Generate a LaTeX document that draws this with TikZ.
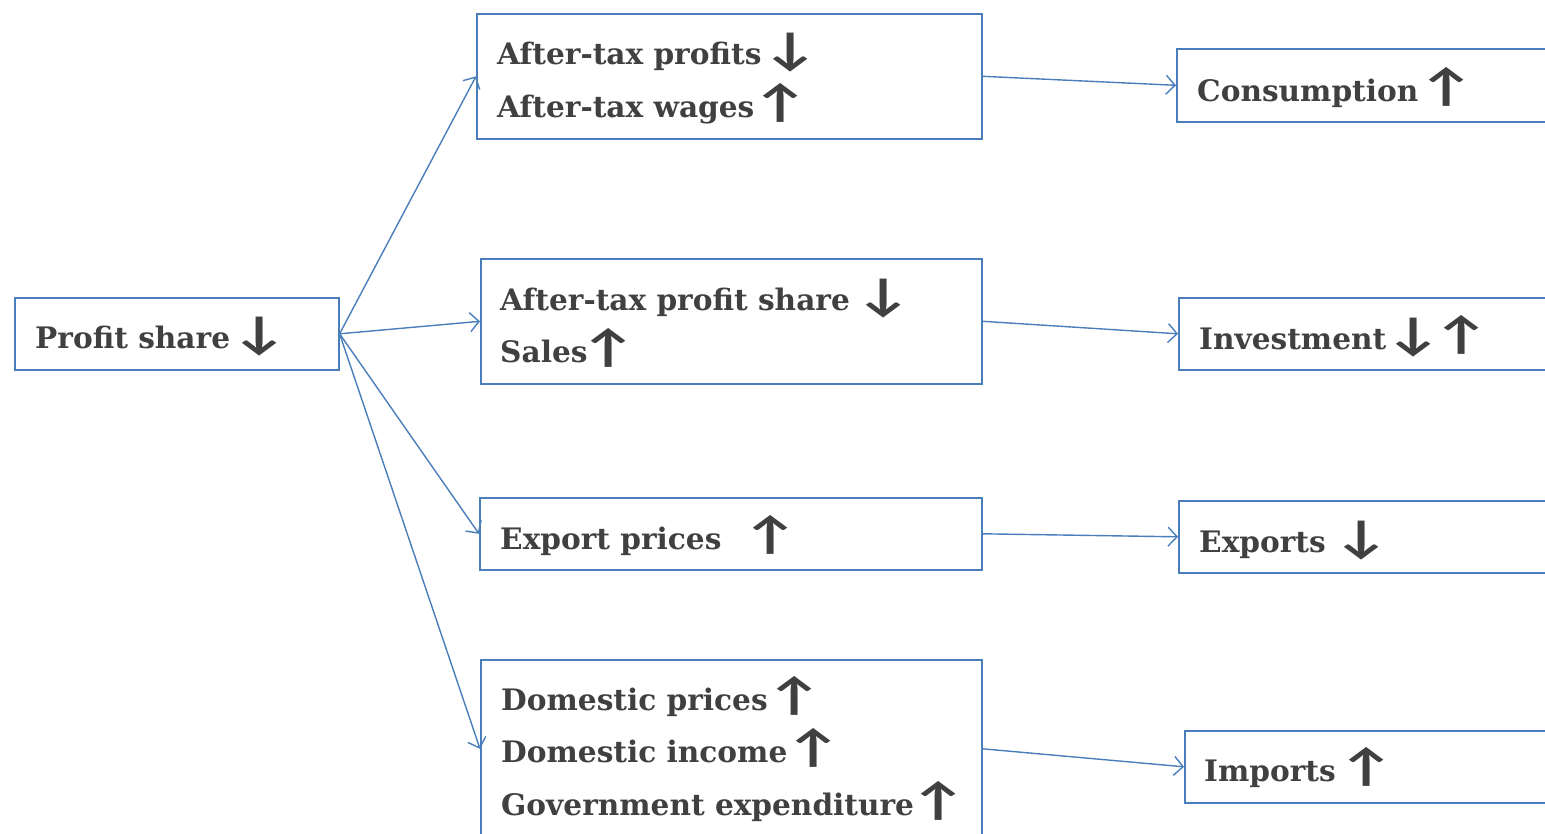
\documentclass[tikz,border=0pt]{standalone}
\usepackage{fontspec}
\usepackage{graphicx}
\setmainfont{DejaVu Serif}
\newfontfamily\arrowfont{Carlito}
\usetikzlibrary{arrows.meta}
\definecolor{boxblue}{HTML}{4A7EBB}
\definecolor{txtgray}{HTML}{404040}
\newcommand{\up}{{\arrowfont\bfseries\fontsize{46}{46}\selectfont\scalebox{1.35}[1]{↑}}}
\newcommand{\dn}{{\arrowfont\bfseries\fontsize{46}{46}\selectfont\scalebox{1.35}[1]{↓}}}
\newcommand{\gap}[1]{\hspace{#1pt}}
\begin{document}
\begin{tikzpicture}[x=1pt,y=-1pt,
  box/.style={draw=boxblue,line width=1.6pt,anchor=north west,inner sep=0pt,fill=white},
  lbl/.style={anchor=base west,inner sep=0pt,text=txtgray,font=\fontsize{29.6}{34}\selectfont\bfseries},
  conn/.style={draw=boxblue,line width=1.4pt,-{Straight Barb[length=9pt,width=19pt,line width=1.4pt]}}]
\useasboundingbox (0,0) rectangle (1545,833);
\clip (0,0) rectangle (1545,833);
% boxes
\node[box,minimum width=324pt,minimum height=72pt] (P) at (14,297) {};
\node[box,minimum width=505pt,minimum height=125pt] (A) at (476,13) {};
\node[box,minimum width=501pt,minimum height=125pt] (B) at (480,258) {};
\node[box,minimum width=502pt,minimum height=72pt] (C) at (479,497) {};
\node[box,minimum width=501pt,minimum height=178pt] (D) at (480,659) {};
\node[box,minimum width=400pt,minimum height=73pt] (Cons) at (1176,48) {};
\node[box,minimum width=400pt,minimum height=72pt] (Inv) at (1178,297) {};
\node[box,minimum width=400pt,minimum height=72pt] (Exp) at (1178,500) {};
\node[box,minimum width=400pt,minimum height=72pt] (Imp) at (1184,730) {};
% texts
\node[lbl] (Pt) at (35,348) {Profit share\gap{1}\dn};
\node[lbl] (A1) at (497,64) {After-tax profits\gap{1}\dn};
\node[lbl] (A2) at (497,117) {After-tax wages\gap{-2}\up};
\node[lbl] (B1) at (500,310) {After-tax profit share\gap{5.5}\dn};
\node[lbl] (B2) at (500,362) {Sales\gap{-7}\up};
\node[lbl] (C1) at (500,549) {Export prices\gap{21.5}\up};
\node[lbl] (D1) at (501,710) {Domestic prices\gap{-1}\up};
\node[lbl] (D2) at (501,762) {Domestic income\gap{-2}\up};
\node[lbl] (D3) at (501,815) {Government expenditure\gap{-4}\up};
\node[lbl] (Const) at (1197,101) {Consumption\gap{0}\up};
\node[lbl] (Invt) at (1199,349) {Investment\gap{-1}\dn\gap{-8.5}\up};
\node[lbl] (Expt) at (1199,552) {Exports\gap{7.5}\dn};
\node[lbl] (Impt) at (1204,781) {Imports\gap{3}\up};
% connectors
\draw[conn] (P.east) -- (A.west);
\draw[conn] (P.east) -- (B.west);
\draw[conn] (P.east) -- (C.west);
\draw[conn] (P.east) -- (D.west);
\draw[conn] (A.east) -- (Cons.west);
\draw[conn] (B.east) -- (Inv.west);
\draw[conn] (C.east) -- (Exp.west);
\draw[conn] (D.east) -- (Imp.west);
\end{tikzpicture}
\end{document}
